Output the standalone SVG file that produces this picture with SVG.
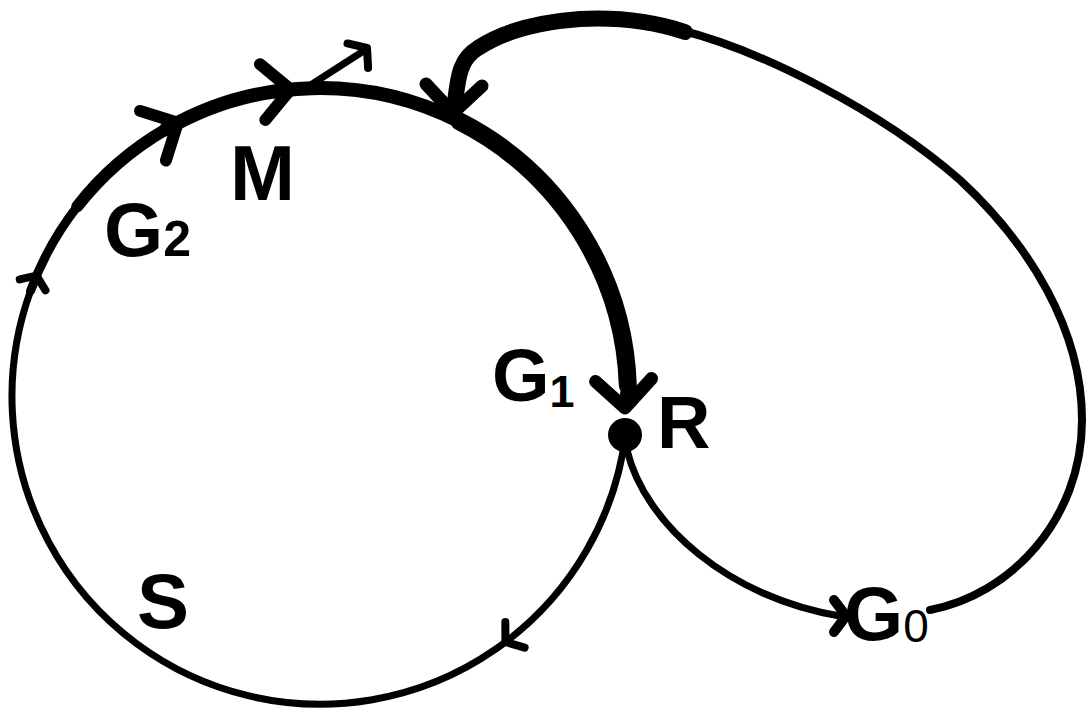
<svg xmlns="http://www.w3.org/2000/svg" width="1087" height="708" viewBox="0 0 1087 708">
<style>
.ln{fill:none;stroke:#000;stroke-linecap:round;stroke-linejoin:round}
.ah{fill:none;stroke:#000;stroke-linecap:round;stroke-linejoin:round}
.lbl{font-family:"Liberation Sans",Arial,sans-serif;font-weight:bold;fill:#000}
</style>
<defs>
<path id="chevBig" d="M-28,-28 L0,0 L-28,28"/>
<path id="chevSmall" d="M-10,-14 L0,0 L-10,14"/>
<path id="chevMid" d="M-12,-16 L0,0 L-12,16"/>
</defs>
<rect width="1087" height="708" fill="#fff"/>
<g id="connectors">
  <!-- main circle S, pieces of varying weight -->
  <path class="ln" stroke-width="7" d="M625.7,433.5 A308,308 0 1 1 30.6,290.7"/>
  <path class="ln" stroke-width="9" d="M30.6,290.7 A308,308 0 0 1 77.3,206.4"/>
  <path class="ln" stroke-width="12" d="M77.3,206.4 A308,308 0 0 1 166,129.3"/>
  <path class="ln" stroke-width="14" d="M166,129.3 A308,308 0 0 1 459.8,121.6"/>
  <path class="ln" stroke-width="18" d="M459.8,121.6 A308,308 0 0 1 627.8,385.2"/>
  <path class="ln" stroke-width="13" d="M627.8,385.2 L625,406"/>
  <!-- branch from R to G0 -->
  <path class="ln" stroke-width="7" d="M627,450 C645,525 730,598 840,616"/>
  <!-- return loop from G0 back to circle -->
  <path class="ln" stroke-width="8" d="M930,610 C1010,595 1082,520 1082,420 C1082,330 1030,245 960,180 C880,110 760,50 680,30"/>
  <path class="ln" stroke-width="16" d="M454,110 C458,80 458,60 478,48 C505,30 540,22 580,19 C620,17 655,22 685,32"/>
  <!-- small outgoing arrow near M -->
  <path class="ln" stroke-width="7" d="M306,88 L362,52"/>
  <!-- arrowheads -->
  <use href="#chevBig" class="ah" stroke-width="12" transform="translate(177.8,122.8) rotate(332.5)"/>
  <use href="#chevBig" class="ah" stroke-width="12" transform="translate(290.5,89.4) rotate(354.5)"/>
  <use href="#chevBig" class="ah" stroke-width="13" transform="translate(453,113) rotate(92)"/>
  <use href="#chevBig" class="ah" stroke-width="13" transform="translate(625,408) rotate(87)"/>
  <use href="#chevSmall" class="ah" stroke-width="8" transform="translate(36.5,275.7) rotate(293)"/>
  <use href="#chevMid" class="ah" stroke-width="8" transform="translate(505.4,642) rotate(143)"/>
  <use href="#chevMid" class="ah" stroke-width="10" transform="translate(846,616) rotate(0)"/>
  <use href="#chevMid" class="ah" stroke-width="8" transform="translate(367,48) rotate(-40)"/>
</g>
<g id="node-R">
  <circle cx="625" cy="435" r="17" fill="#000"/>
  <text class="lbl" x="657" y="448" font-size="74">R</text>
</g>
<g id="node-G1">
  <text class="lbl" x="492" y="401" font-size="74">G<tspan font-size="45" dy="6">1</tspan></text>
</g>
<g id="node-G2">
  <text class="lbl" x="104" y="256" font-size="76">G<tspan font-size="50">2</tspan></text>
</g>
<g id="node-M">
  <text class="lbl" x="230" y="200" font-size="78">M</text>
</g>
<g id="node-S">
  <text class="lbl" x="137" y="628" font-size="78">S</text>
</g>
<g id="node-G0">
  <text class="lbl" x="844" y="640" font-size="76">G<tspan font-size="46" font-weight="normal" dy="2">0</tspan></text>
</g>
</svg>
